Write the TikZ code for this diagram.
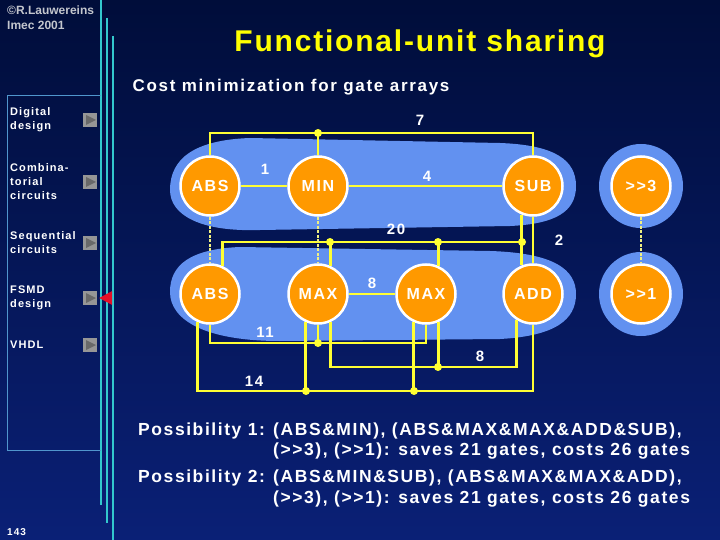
\documentclass[tikz,border=0pt]{standalone}
\usepackage{fontspec}
\setmainfont{Liberation Sans}[LetterSpace=10]
\usetikzlibrary{calc, positioning, backgrounds}
\definecolor{slidetop}{RGB}{0,13,58}
\definecolor{slidebot}{RGB}{10,32,118}
\definecolor{blobblue}{RGB}{98,145,240}
\definecolor{unitorange}{RGB}{255,153,0}
\definecolor{wireyellow}{RGB}{255,255,51}
\definecolor{dotyellow}{RGB}{240,240,130}
\definecolor{titleyellow}{RGB}{255,255,0}
\definecolor{railcyan}{RGB}{51,200,205}
\definecolor{navframe}{RGB}{80,150,205}
\definecolor{btngray}{RGB}{150,150,150}
\definecolor{btndark}{RGB}{105,105,105}
\definecolor{markred}{RGB}{230,16,40}
\definecolor{creditgray}{RGB}{195,198,205}

\begin{document}
\begin{tikzpicture}[
        x=1pt, y=-1pt,
        node distance = 46.5pt,
        unit/.style = {circle, draw=white, line width=2.5pt, fill=unitorange, minimum size=59pt, inner sep=0pt, text=white, font=\bfseries\fontsize{16}{16}\selectfont},
        wire/.style = {draw=wireyellow, line width=2.7pt},
        sameop/.style = {draw=dotyellow, line width=2.5pt, dash pattern=on 3pt off 1.5pt},
        cost/.style = {text=white, inner sep=0pt, font=\bfseries\fontsize{15}{15}\selectfont},
        navitem/.style = {anchor=west, align=left, inner sep=0pt, text=white, font=\bfseries\fontsize{11}{14}\selectfont},
        navbtn/.style = {fill=btngray, minimum size=14pt, inner sep=0pt},
        rail/.style = {draw=railcyan, line width=2.8pt},
        possib/.style = {anchor=base west, inner sep=0pt, text=white, font=\bfseries\fontsize{17.5}{17.5}\selectfont\addfontfeatures{LetterSpace=9}}
    ]
        \useasboundingbox (0,0) rectangle (720,540);

        % Row 1: units
        \node (abs1) [unit] at (210,186) {ABS};
        \node (min) [unit, right=of abs1] {MIN};
        \node (sub) [unit] at (533,186) {SUB};
        \node (shrA) [unit, right=of sub] {>{}>3};

        % Row 2: units
        \node (abs2) [unit, below=of abs1] {ABS};
        \node (maxA) [unit, below=of min] {MAX};
        \node (maxB) [unit, right=of maxA] {MAX};
        \node (add) [unit, below=of sub] {ADD};
        \node (shrB) [unit, below=of shrA] {>{}>1};

        % Junctions
        \coordinate (j7) at (318,133);
        \coordinate (t7) at (533,133);
        \coordinate (j20a) at (330,242);
        \coordinate (j20b) at (438,242);
        \coordinate (j20c) at (522,242);
        \coordinate (j11) at (318,343);
        \coordinate (j8) at (438,367);
        \coordinate (j14a) at (306,391);
        \coordinate (j14b) at (414,391);

        % Wires row 1
        \draw [wire] (abs1.north) |- (t7) -- (sub.north);
        \draw [wire] (min.north) |- (j7);
        \draw [wire] (abs1) -- (min);
        \draw [wire] (min) -- (sub);

        % Wires between rows
        \draw [wire] (abs2.66) |- (j20c);
        \draw [wire] (maxA.66) |- (j20a);
        \draw [wire] (maxB.66) |- (j20b);
        \draw [wire] (sub.-112) -- (add.112);
        \draw [wire] (sub.south) -- (add.north);

        % Wires row 2
        \draw [wire] (maxA) -- (maxB);
        \draw [wire] (abs2.south) |- (j11) -| (maxB.south);
        \draw [wire] (maxA.south) |- (j11);
        \draw [wire] (maxA.-66) |- (j8) -| (add.-122);
        \draw [wire] (maxB.-66) |- (j8);
        \draw [wire] (abs2.-114) |- (j14b) -| (add.south);
        \draw [wire] (maxA.-114) |- (j14a);
        \draw [wire] (maxB.-114) |- (j14b);

        \foreach \j in {j7, j20a, j20b, j20c, j11, j8, j14a, j14b}
            \fill [wireyellow] (\j) circle (4pt);

        % Same-type links
        \draw [sameop] (abs1) -- (abs2);
        \draw [sameop] (min) -- (maxA);
        \draw [sameop] (shrA) -- (shrB);

        % Gate costs
        \node (lbl7) [cost] at (420,120) {7};
        \node (lbl1) [cost] at (265,169) {1};
        \node (lbl4) [cost] at (427,176) {4};
        \node (lbl20) [cost] at (396,229) {20};
        \node (lbl2) [cost] at (559,240) {2};
        \node (lbl8a) [cost] at (372,283) {8};
        \node (lbl11) [cost] at (265,332) {11};
        \node (lbl8b) [cost] at (480,356) {8};
        \node (lbl14) [cost] at (254,381) {14};

        % Background and sharing groups
        \begin{scope}[on background layer]
            \shade [top color=slidetop, bottom color=slidebot] (0,0) rectangle (720,540);
            \fill [blobblue] (170,190) .. controls (170,158) and (195,140) .. (250,138) -- (500,143) .. controls (555,145) and (576,160) .. (576,186) .. controls (576,212) and (555,224) .. (510,226) -- (260,230) .. controls (200,232) and (170,215) .. (170,190) -- cycle;
            \fill [blobblue] (170,292) .. controls (170,265) and (190,249) .. (240,247) -- (490,251) .. controls (555,253) and (576,270) .. (576,294) .. controls (576,320) and (555,336) .. (500,339) -- (280,341) .. controls (205,341) and (170,320) .. (170,292) -- cycle;
            \fill [blobblue] (shrA) circle (42pt);
            \fill [blobblue] (shrB) circle (42pt);
        \end{scope}

        % Side bar
        \draw [rail] (101,0) -- (101,505);
        \draw [rail] (107,18) -- (107,523);
        \draw [rail] (113,36) -- (113,540);
        \draw [navframe, line width=1pt] (101,96) -- (7,96) -- (7,450) -- (101,450);

        \node (navdig) [navitem] at (10,120) {Digital\\design};
        \node (navcomb) [navitem] at (10,182) {Combina-\\torial\\circuits};
        \node (navseq) [navitem] at (10,243) {Sequential\\circuits};
        \node (navfsmd) [navitem] at (10,298) {FSMD\\design};
        \node (navvhdl) [navitem] at (10,345) {VHDL};

        \foreach \y [count=\i] in {120,182,243,298,345} {
            \node (btn\i) [navbtn] at (90,\y) {};
            \fill [btndark] ($(btn\i.center)+(-4,-5)$) -- ++(10,5) -- ++(-10,5) -- cycle;
        }
        \fill [markred] ($(btn4.east)+(2,0)$) -- ++(13,-7) -- ++(0,14) -- cycle;

        % Header
        \node (credit1) [anchor=base west, inner sep=0pt, text=creditgray, font=\bfseries\fontsize{12}{12}\selectfont\addfontfeatures{LetterSpace=0}] at (7,15) {©R.Lauwereins};
        \node (credit2) [anchor=base west, inner sep=0pt, text=creditgray, font=\bfseries\fontsize{12}{12}\selectfont\addfontfeatures{LetterSpace=0}] at (7,30) {Imec 2001};
        \node (title) [anchor=base, inner sep=0pt, text=titleyellow, font=\bfseries\fontsize{30}{30}\selectfont\addfontfeatures{LetterSpace=6}] at (420,52) {Functional-unit sharing};
        \node (subtitle) [anchor=base, inner sep=0pt, text=white, font=\bfseries\fontsize{17}{17}\selectfont] at (291,92) {Cost minimization for gate arrays};

        % Possibilities
        \node (pos1) [possib] at (138,435) {Possibility 1:};
        \node (pos1a) [possib] at (273,435) {(ABS\&MIN), (ABS\&MAX\&MAX\&ADD\&SUB),};
        \node (pos1b) [possib] at (273,455) {(>{}>3), (>{}>1): saves 21 gates, costs 26 gates};
        \node (pos2) [possib] at (138,482) {Possibility 2:};
        \node (pos2a) [possib] at (273,482) {(ABS\&MIN\&SUB), (ABS\&MAX\&MAX\&ADD),};
        \node (pos2b) [possib] at (273,503) {(>{}>3), (>{}>1): saves 21 gates, costs 26 gates};

        \node (page) [anchor=base west, inner sep=0pt, text=white, font=\bfseries\fontsize{10}{10}\selectfont] at (7,535) {143};

    \end{tikzpicture}
\end{document}
